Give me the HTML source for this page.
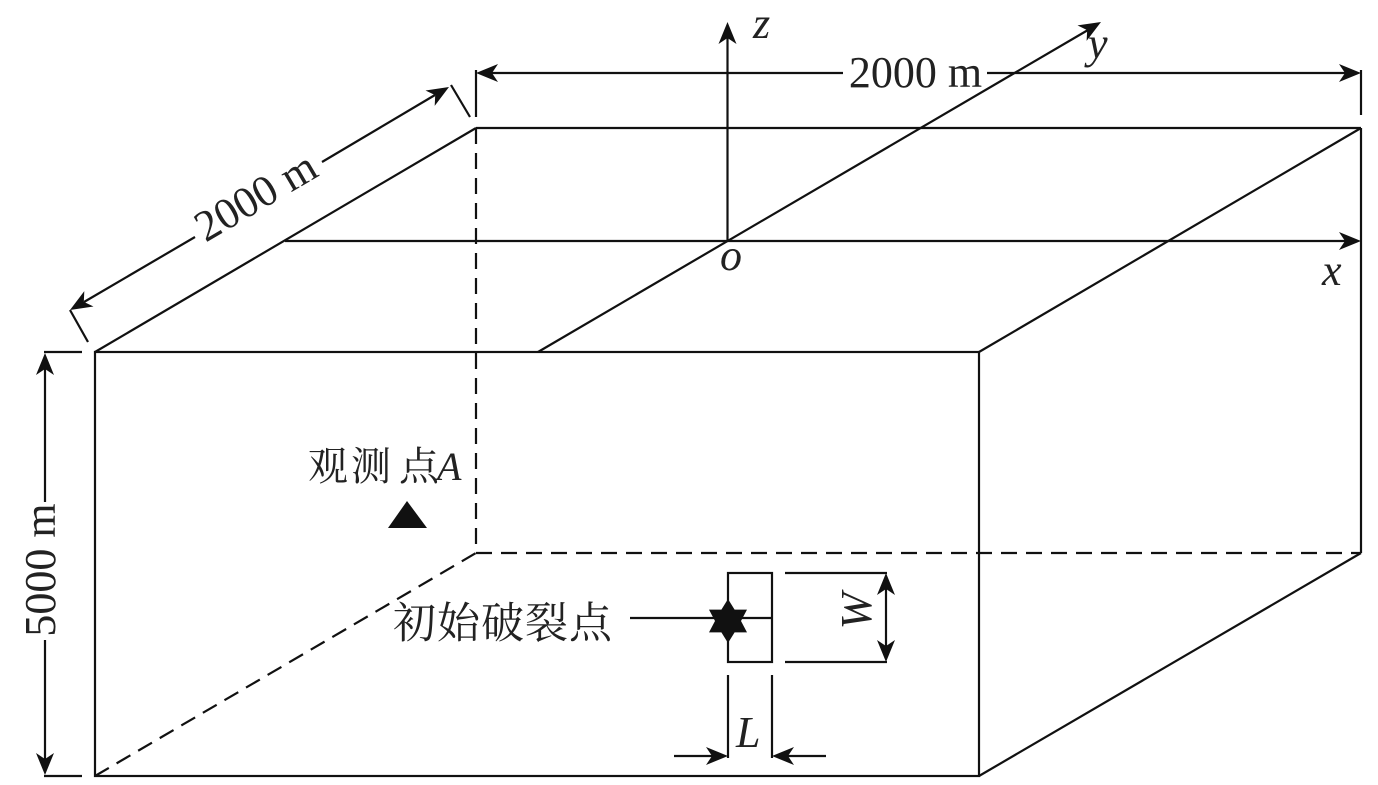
<!DOCTYPE html>
<html><head><meta charset="utf-8"><style>
html,body{margin:0;padding:0;background:#fff;}
svg{display:block;}
</style></head><body>
<svg width="1378" height="785" viewBox="0 0 1378 785" xmlns="http://www.w3.org/2000/svg">
<g stroke="#111" stroke-width="2.2" fill="none" stroke-linecap="butt">
  <!-- front face -->
  <rect x="95" y="352" width="884" height="424"/>
  <!-- top face edges -->
  <line x1="95" y1="352" x2="476" y2="128"/>
  <line x1="476" y1="128" x2="1361" y2="128"/>
  <line x1="979" y1="352" x2="1361" y2="128"/>
  <!-- right face -->
  <line x1="1361" y1="128" x2="1361" y2="553"/>
  <line x1="979" y1="776" x2="1361" y2="553"/>
  <!-- hidden -->
  <g stroke-dasharray="16 9">
    <line x1="476" y1="128" x2="476" y2="553"/>
    <line x1="476" y1="553" x2="1361" y2="553"/>
    <line x1="95" y1="776" x2="476" y2="553"/>
  </g>
  <!-- axes -->
  <line x1="285" y1="241" x2="1345" y2="241"/>
  <line x1="538" y1="352" x2="1088" y2="30"/>
  <line x1="727.5" y1="241" x2="727.5" y2="38"/>
  <!-- top dim -->
  <line x1="476" y1="70" x2="476" y2="117"/>
  <line x1="1361" y1="70" x2="1361" y2="115"/>
  <line x1="492" y1="73" x2="843" y2="73"/>
  <line x1="987" y1="73" x2="1345" y2="73"/>
  <!-- left diag dim -->
  <line x1="70" y1="310" x2="88" y2="342"/>
  <line x1="451" y1="85" x2="470" y2="117"/>
  <line x1="84" y1="302" x2="195" y2="237"/>
  <line x1="322" y1="162" x2="435" y2="95"/>
  <!-- 5000 m dim -->
  <line x1="44" y1="352" x2="82" y2="352"/>
  <line x1="44" y1="776" x2="82" y2="776"/>
  <line x1="45" y1="369" x2="45" y2="502"/>
  <line x1="45" y1="640" x2="45" y2="759"/>
  <!-- fault rect -->
  <rect x="728" y="573" width="44" height="89"/>
  <line x1="630" y1="618" x2="772" y2="618"/>
  <!-- W dim -->
  <line x1="785" y1="573" x2="887" y2="573"/>
  <line x1="785" y1="662" x2="887" y2="662"/>
  <line x1="886" y1="589" x2="886" y2="646"/>
  <!-- L dim -->
  <line x1="728" y1="675" x2="728" y2="758"/>
  <line x1="772" y1="675" x2="772" y2="758"/>
  <line x1="674" y1="756" x2="712" y2="756"/>
  <line x1="788" y1="756" x2="826" y2="756"/>
</g>
<g fill="#111" stroke="none">
  <!-- arrowheads -->
  <polygon points="727.5,22 736.5,44 727.5,38 718.5,44"/>
  <polygon points="1361,241 1339,250 1345,241 1339,232"/>
  <polygon points="1101,22 1086.6,40.9 1087.2,30.1 1077.5,25.4"/>
  <polygon points="476,73 498,82 492,73 498,64"/>
  <polygon points="1361,73 1339,82 1345,73 1339,64"/>
  <polygon points="70,310 93.5,306.5 83.8,301.9 84.3,291.1"/>
  <polygon points="449,87 434.7,105.9 435.2,95.1 425.5,90.5"/>
  <polygon points="45,353 54,375 45,369 36,375"/>
  <polygon points="45,775 54,753 45,759 36,753"/>
  <polygon points="886,573 895,595 886,589 877,595"/>
  <polygon points="886,662 895,640 886,646 877,640"/>
  <polygon points="728,756 706,765 712,756 706,747"/>
  <polygon points="772,756 794,765 788,756 794,747"/>
  <!-- triangle -->
  <polygon points="407,501 388,528 427,528"/>
  <!-- star -->
  <polygon points="728,599 734.6,609.6 747,609.6 741,621 747,632.4 734.6,632.4 728,643 721.4,632.4 709,632.4 715,621 709,609.6 721.4,609.6"/>
</g>
<g font-family="'Liberation Serif', serif" fill="#222" font-size="44">
  <text x="915.5" y="87" text-anchor="middle">2000 m</text>
  <text transform="translate(263,209) rotate(-30.5)" text-anchor="middle">2000 m</text>
  <text transform="translate(55,570) rotate(-90)" text-anchor="middle">5000 m</text>
  <g font-style="italic">
    <text x="753" y="38">z</text>
    <text x="1088" y="58">y</text>
    <text x="720" y="270">o</text>
    <text x="1322" y="285">x</text>
    <text x="437" y="480" font-size="40">A</text>
    <text transform="translate(871,611) rotate(-90)" text-anchor="middle">W</text>
    <text x="736" y="747">L</text>
  </g>
</g>
<g font-family="'Liberation Serif', 'Noto Serif CJK SC', serif" fill="#222">
  <text x="308" y="480" font-size="40">观</text>
  <text x="351" y="480" font-size="40">测</text>
  <text x="399" y="480" font-size="40">点</text>
  <text x="393" y="638" font-size="43" letter-spacing="1">初始破裂点</text>
</g>
</svg>
</body></html>
